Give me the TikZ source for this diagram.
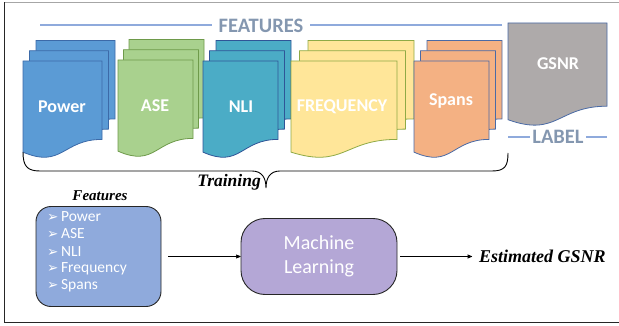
\documentclass[tikz,border=0pt]{standalone}
\usepackage{fontspec}
\setmainfont{Liberation Serif}
\setsansfont{Carlito}
\newfontfamily\bulletfont{DejaVu Sans}
\usetikzlibrary{positioning,arrows}

\definecolor{powerfill}{HTML}{5B9BD5}
\definecolor{powerline}{HTML}{3C6AA8}
\definecolor{asefill}{HTML}{A9D18E}
\definecolor{aseline}{HTML}{6E9A4A}
\definecolor{nlifill}{HTML}{4BACC6}
\definecolor{nliline}{HTML}{2F5597}
\definecolor{freqfill}{HTML}{FFE699}
\definecolor{freqline}{HTML}{8FAA45}
\definecolor{spansfill}{HTML}{F4B183}
\definecolor{spansline}{HTML}{4A6AA5}
\definecolor{gsnrfill}{HTML}{AEAAAA}
\definecolor{headgray}{HTML}{8497B0}
\definecolor{rulecol}{HTML}{8FAADC}
\definecolor{featfill}{HTML}{8FAADC}
\definecolor{mlfill}{HTML}{B4A7D6}
\definecolor{boxline}{HTML}{262626}

% one sheet with a wavy bottom: x, y, width, height, fill, line
\newcommand{\docsheet}[6]{%
  \draw[draw=#6,fill=#5,line width=0.8pt] ({#1},{#2}) -- ({#1+#3},{#2})
    -- ({#1+#3},{#2+0.80*#4})
    .. controls ({#1+0.5*#3},{#2+0.80*#4}) and ({#1+0.5*#3},{#2+1.10*#4}) .. ({#1},{#2+0.93*#4})
    -- cycle;}
% three sheets: x, y, width, shift, fill, line
\newcommand{\docstack}[6]{%
  \docsheet{#1+2*#4}{#2-20.5}{#3}{98}{#5}{#6}
  \docsheet{#1+#4}{#2-10.3}{#3}{98}{#5}{#6}
  \docsheet{#1}{#2}{#3}{98}{#5}{#6}}

\begin{document}
\begin{tikzpicture}[x=1pt,y=-1pt]
                    \tikzstyle{every node}=[inner sep=0]
                    \tikzstyle{sheetlabel}=[font=\sffamily\bfseries\fontsize{18}{21}\selectfont,text=white]
                    \tikzstyle{heading}=[font=\sffamily\bfseries\fontsize{20.5}{24}\selectfont,text=headgray]
                    \tikzstyle{rule}=[draw=rulecol,line width=1.3pt]
                    \tikzstyle{capt}=[font=\rmfamily\bfseries\itshape\fontsize{17.5}{20}\selectfont]
                    \tikzstyle{rbox}=[draw=boxline,line width=0.9pt]
                    \tikzstyle{item}=[anchor=west,text=white,font=\sffamily\fontsize{15.5}{18}\selectfont]
                    {
                        \useasboundingbox (0,0) rectangle (619,326);
                        \draw[gray!70,line width=1pt] (619,2.5) -- (4,2.5);
                        \draw[black!85,line width=1pt] (4,2.5) -- (4,322) -- (619,322);

                        % feature sheets
                        \docstack{23}{61}{79}{6.5}{powerfill}{powerline}
                        \docstack{118}{60}{75}{5.5}{asefill}{aseline}
                        \docstack{203}{61}{75}{6.5}{nlifill}{nliline}
                        \docstack{291}{61}{106}{8.5}{freqfill}{freqline}
                        \docstack{414}{61}{75}{6.5}{spansfill}{spansline}
                        \docsheet{508}{23}{99}{104}{gsnrfill}{spansline}

                        \node[sheetlabel] (power) at (62,107) {Power};
                        \node[sheetlabel] (ase) at (155,106) {ASE};
                        \node[sheetlabel] (nli) at (241,107) {NLI};
                        \node[sheetlabel] (freq) at (342,107) {FREQUENCY};
                        \node[sheetlabel] (spans) at (451,101) {Spans};
                        \node[sheetlabel] (gsnr) at (558,64) {GSNR};

                        \node[heading] (features) at (261,26) {FEATURES};
                        \node[heading] (label) at (558,137) {LABEL};
                        \coordinate (fl) at (40,25);
                        \coordinate (fr) at (502,25);
                        \coordinate (ll) at (508,137);
                        \coordinate (lr) at (607,137);
                        \draw[rule,shorten >=7pt] (fl) -- (features.west |- fl);
                        \draw[rule,shorten >=7pt] (fr) -- (features.east |- fr);
                        \draw[rule,shorten >=2pt] (ll) -- (label.west |- ll);
                        \draw[rule,shorten >=2pt] (lr) -- (label.east |- lr);

                        % brace
                        \draw[line width=0.9pt] (23,152) .. controls (23,166) and (27,171) .. (40,171)
                            -- (252,171) .. controls (262,171) and (266,178) .. (266,188)
                            .. controls (266,178) and (270,171) .. (280,171)
                            -- (492,171) .. controls (505,171) and (508,166) .. (508,153);
                        \node[capt,anchor=east] (train) at (261,182) {Training};

                        % model
                        \node[capt,font=\rmfamily\bfseries\itshape\fontsize{15}{18}\selectfont] (featcap) at (100,196) {Features};
                        \node[rbox,fill=featfill,rounded corners=15,minimum width=125,minimum height=100] (feat) at (98.5,256.5) {};
                        \foreach \t [count=\i] in {Power,ASE,NLI,Frequency,Spans}
                            \node[item] (item\i) at (47,{199.5+17.2*\i}) {{\bulletfont\fontsize{13.5}{15}\selectfont ➢}\,\t};

                        \node[rbox,fill=mlfill,rounded corners=24,minimum width=156,minimum height=76,
                              text=white,align=center,font=\sffamily\fontsize{20}{24}\selectfont] (ml) at (319,256.5) {Machine\\Learning};
                        \node[capt,anchor=west,font=\rmfamily\bfseries\itshape\fontsize{18}{20}\selectfont] (est) at (479,256.5) {Estimated GSNR};

                        \path[->,>=stealth',line width=0.7pt]
                            (feat) edge[shorten <=7pt] (ml)
                            (ml) edge[shorten <=3pt,shorten >=7pt] (est);
                    }
\end{tikzpicture}
\end{document}
